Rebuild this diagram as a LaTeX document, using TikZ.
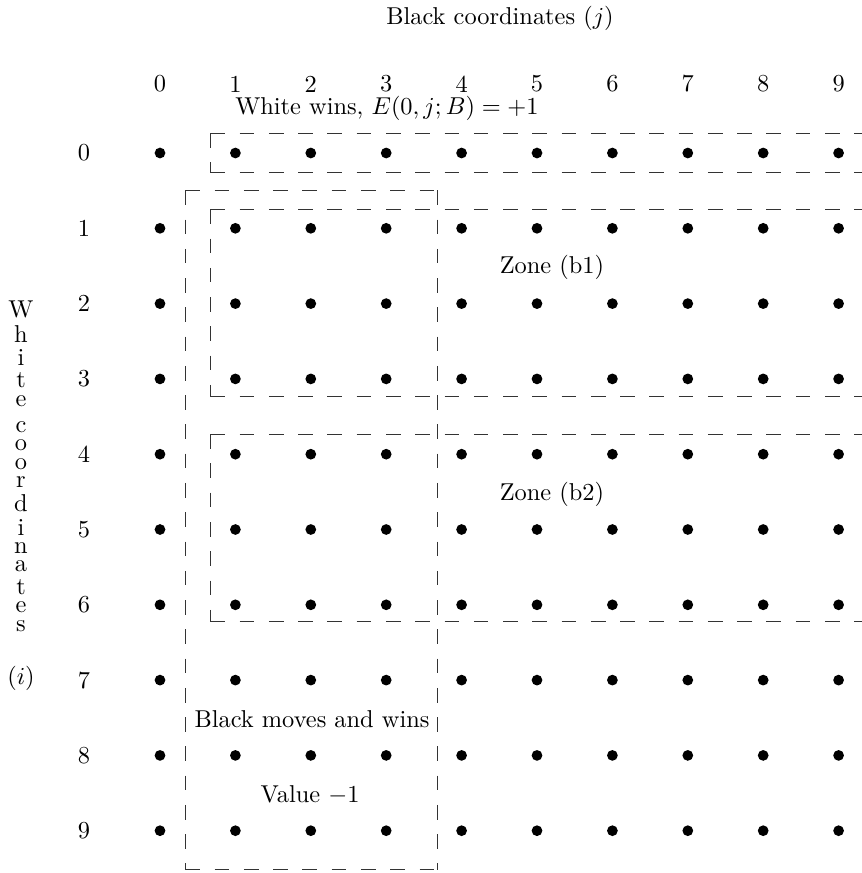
\documentclass[tikz,border=0pt]{standalone}
\usetikzlibrary{calc}
\begin{document}
\begin{tikzpicture}[x=0.41pt,y=-0.41pt,
  dot/.style={circle,fill=black,inner sep=0pt,minimum size=4.4pt},
  zone/.style={draw=black!80,line width=0.4pt,dash pattern=on 6pt off 6pt},
  lbl/.style={inner sep=1pt}]
\useasboundingbox (0,0) rectangle (862,873);
\foreach \i in {0,...,9} {
  \foreach \j in {0,...,9} {
    \node[dot] (d-\i-\j) at ({160+75.4*\j},{153+75.3*\i}) {};
  }
  \node[lbl] (r-\i) at (84,{153+75.3*\i}) {\i};
  \node[lbl] (c-\i) at ({160+75.4*\i},84) {\i};
}
\node[lbl] (title) at (500,18) {Black coordinates ($j$)};
\node[lbl] (ww) at (387,108) {White wins, $E(0,j;B)=+1$};
\node[lbl] (zb1) at (552,267) {Zone (b1)};
\node[lbl] (zb2) at (552,494) {Zone (b2)};
\node[lbl] (bm) at (312,719) {Black moves and wins};
\node[lbl] (v1) at (310,795) {Value $-1$};
\node[lbl] (wc) at (21,466) {\shortstack{W\\h\\i\\t\\e\\ \\c\\o\\o\\r\\d\\i\\n\\a\\t\\e\\s}};
\node[lbl] (ii) at (21,678) {($i$)};
% corners of the dashed regions
\coordinate (a-tl) at ($(d-0-1)+(-25,-20)$);
\coordinate (a-bl) at ($(d-0-1)+(-25,19)$);
\coordinate (a-tr) at ($(d-0-9)+(23,-20)$);
\coordinate (a-br) at ($(d-0-9)+(23,19)$);
\coordinate (b-tl) at ($(d-1-1)+(-25,-19)$);
\coordinate (b-bl) at ($(d-3-1)+(-25,18)$);
\coordinate (b-tr) at ($(d-1-9)+(23,-19)$);
\coordinate (b-br) at ($(d-3-9)+(23,18)$);
\coordinate (c-tl) at ($(d-4-1)+(-25,-20)$);
\coordinate (c-bl) at ($(d-6-1)+(-25,17)$);
\coordinate (c-tr) at ($(d-4-9)+(23,-20)$);
\coordinate (c-br) at ($(d-6-9)+(23,17)$);
\coordinate (t-tl) at ($(d-1-1)+(-50,-38)$);
\coordinate (t-br) at ($(d-9-3)+(51,39)$);
\coordinate (t-tr) at (t-br |- t-tl);
\coordinate (t-bl) at (t-tl |- t-br);
% dashed regions
\foreach \z in {a,b,c} {
  \draw[zone] (\z-tl) -- (\z-tr);
  \draw[zone] (\z-tl) -- (\z-bl);
  \draw[zone] (\z-bl) -- (\z-br);
}
\draw[zone] (t-tl) -- (t-tr);
\draw[zone] (t-tl) -- (t-bl);
\draw[zone] (t-tr) -- (t-br);
\draw[zone] (t-bl) -- (t-br);
\end{tikzpicture}
\end{document}
